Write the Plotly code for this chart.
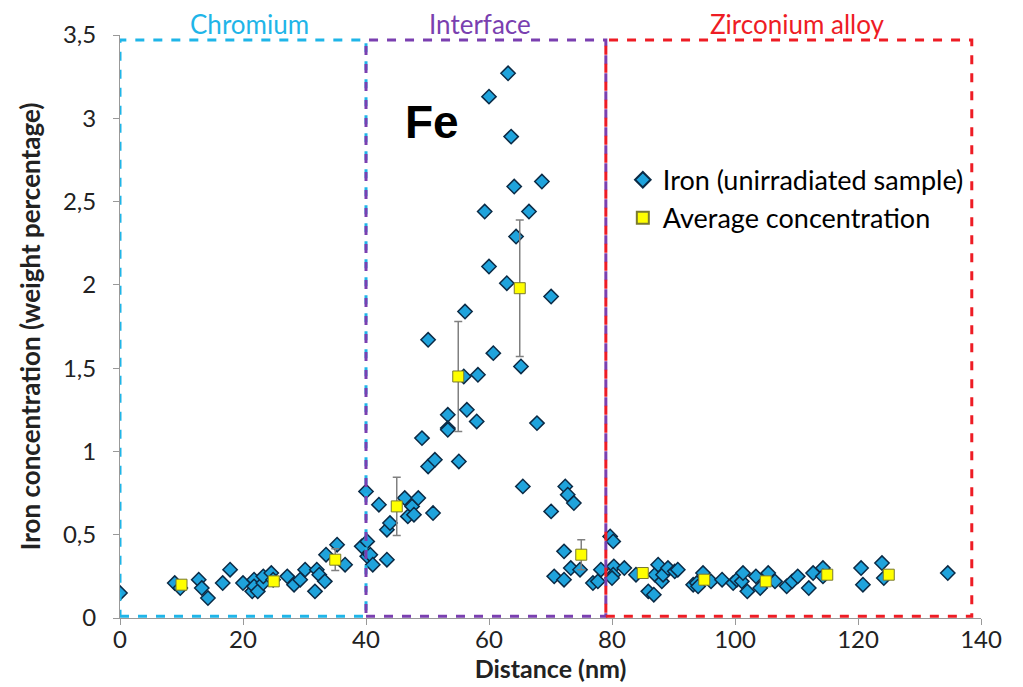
import plotly.graph_objects as go

# Iron (unirradiated sample) data
iron_x = [0, 8.9, 9.8, 12.8, 13.3, 14.3, 16.7, 17.9, 20.0, 21.5, 21.8, 21.8, 22.4, 23.3, 23.3,
          24.6, 24.9, 27.2, 28.3, 29.3, 30.1, 31.7, 32.0, 32.4, 33.3, 33.5, 35.3, 36.6, 39.3,
          40.0, 40.2, 40.2, 40.7, 41.1, 42.1, 43.4, 43.4, 43.9, 46.3, 46.8, 47.5, 47.8, 48.5,
          49.1, 50.1, 50.1, 50.9, 51.2, 53.3, 53.3, 53.3, 55.1, 55.9, 56.1, 56.4, 58.0, 58.2,
          59.3, 60.0, 60.0, 60.7, 62.9, 63.1, 63.6, 64.1, 64.4, 65.2, 65.5, 66.5, 67.8, 68.6,
          70.1, 70.1, 70.6, 72.2, 72.2, 72.4, 72.8, 73.3, 73.8, 74.8, 76.9, 77.7, 78.2, 79.7,
          80.2, 80.3, 80.2, 80.0, 82.0, 83.9, 87.0, 85.9, 86.8, 87.5, 88.1, 88.3, 89.1, 90.2,
          90.7, 93.2, 93.8, 94.0, 94.8, 96.1, 97.9, 99.7, 100.3, 101.1, 101.3, 102.0, 103.4,
          104.1, 105.4, 106.5, 108.4, 109.3, 110.2, 112.0, 112.7, 114.3, 114.3, 120.5, 120.8,
          123.9, 124.2, 134.6]
iron_y = [0.15, 0.21, 0.18, 0.23, 0.18, 0.12, 0.21, 0.29, 0.21, 0.16, 0.23, 0.19, 0.16, 0.21, 0.25,
          0.27, 0.23, 0.25, 0.20, 0.23, 0.29, 0.16, 0.29, 0.26, 0.22, 0.38, 0.44, 0.32, 0.43,
          0.76, 0.46, 0.37, 0.38, 0.32, 0.68, 0.35, 0.53, 0.57, 0.72, 0.61, 0.67, 0.62, 0.72,
          1.08, 0.91, 1.67, 0.63, 0.95, 1.22, 1.14, 1.13, 0.94, 1.45, 1.84, 1.25, 1.18, 1.46,
          2.44, 3.13, 2.11, 1.59, 2.01, 3.27, 2.89, 2.59, 2.29, 1.51, 0.79, 2.44, 1.17, 2.62,
          1.93, 0.64, 0.25, 0.40, 0.23, 0.79, 0.74, 0.30, 0.69, 0.29, 0.21, 0.22, 0.29, 0.49,
          0.46, 0.31, 0.26, 0.24, 0.30, 0.26, 0.26, 0.16, 0.14, 0.32, 0.22, 0.26, 0.30, 0.28,
          0.29, 0.20, 0.21, 0.19, 0.27, 0.22, 0.23, 0.21, 0.23, 0.22, 0.27, 0.16, 0.25,
          0.18, 0.27, 0.22, 0.19, 0.22, 0.25, 0.18, 0.27, 0.30, 0.25, 0.30, 0.20,
          0.33, 0.24, 0.27]

# Average concentration
avg_x = [10, 25, 35, 45, 55, 65, 75, 85, 95, 105, 115, 125]
avg_y = [0.20, 0.22, 0.35, 0.67, 1.45, 1.98, 0.38, 0.27, 0.23, 0.22, 0.26, 0.26]
avg_err = [0.02, 0.02, 0.065, 0.175, 0.33, 0.41, 0.09, 0.03, 0.02, 0.02, 0.02, 0.02]

# Regions
region_names = ["Chromium", "Interface", "Zirconium alloy"]
region_start = [0, 40, 79]
region_end = [40, 79, 138.5]
region_label_x = [21, 58.5, 110]
region_colors = ["#1fb5e8", "#7a3fb0", "#ee1c24"]
region_top = 3.47

x_ticks = [0, 20, 40, 60, 80, 100, 120, 140]
y_ticks = [0, 0.5, 1, 1.5, 2, 2.5, 3, 3.5]
y_ticktext = ["0", "0,5", "1", "1,5", "2", "2,5", "3", "3,5"]

FONT = "Lato, Open Sans, sans-serif"

fig = go.Figure()

shapes = []
annotations = []
for name, x0, x1, lx, col in zip(region_names, region_start, region_end, region_label_x, region_colors):
    shapes.append(dict(type="rect", xref="x", yref="y", x0=x0, x1=x1, y0=0.01, y1=region_top,
                       line=dict(color=col, width=3, dash="dash"), layer="above"))
    annotations.append(dict(x=lx, y=region_top, xref="x", yref="y", text=name,
                            showarrow=False, yanchor="bottom", yshift=-2,
                            font=dict(family=FONT, size=26, color=col)))

annotations.append(dict(x=50.7, y=2.98, xref="x", yref="y", text="<b>Fe</b>", showarrow=False,
                        font=dict(family="Liberation Sans, Arial, sans-serif", size=46, color="black")))

fig.add_trace(go.Scatter(
    x=iron_x, y=iron_y, mode="markers", name="Iron (unirradiated sample)",
    marker=dict(symbol="diamond", size=11, color="#1fa3dc", line=dict(color="#0b2a45", width=1.5)),
))
fig.add_trace(go.Scatter(
    x=avg_x, y=avg_y, mode="markers", name="Average concentration",
    marker=dict(symbol="square", size=11, color="#ffff00", line=dict(color="#7a7a30", width=1)),
    error_y=dict(type="data", array=avg_err, visible=True, color="#808080", thickness=1.5, width=4),
))

fig.update_layout(
    width=1023, height=687,
    margin=dict(l=112, r=50, t=27, b=77),
    paper_bgcolor="white", plot_bgcolor="white",
    shapes=shapes, annotations=annotations,
    showlegend=True,
    legend=dict(x=0.584, y=0.793, xanchor="left", yanchor="top", bgcolor="rgba(0,0,0,0)",
                font=dict(family=FONT, size=27, color="black"), tracegroupgap=0,
                itemsizing="constant"),
    font=dict(family=FONT),
    xaxis=dict(range=[0, 140], tickvals=x_ticks, ticks="outside", ticklen=6, tickcolor="#999999",
               showline=True, linecolor="#999999", linewidth=1, showgrid=False, zeroline=False,
               automargin=False, ticklabelstandoff=-6,
               tickfont=dict(family=FONT, size=24, color="#222222"),
               title=dict(text="<b>Distance (nm)</b>", font=dict(family=FONT, size=25, color="#222222"),
                          standoff=0)),
    yaxis=dict(range=[0, 3.5], tickvals=y_ticks, ticktext=y_ticktext, ticks="outside", ticklen=6,
               tickcolor="#999999", showline=True, linecolor="#999999", linewidth=1, showgrid=False,
               zeroline=False, automargin=False, ticklabelstandoff=12,
               tickfont=dict(family=FONT, size=24, color="#222222"),
               title=dict(text="<b>Iron concentration (weight percentage)</b>",
                          font=dict(family=FONT, size=26, color="#222222"), standoff=14)),
)

fig.write_html("out.html")
